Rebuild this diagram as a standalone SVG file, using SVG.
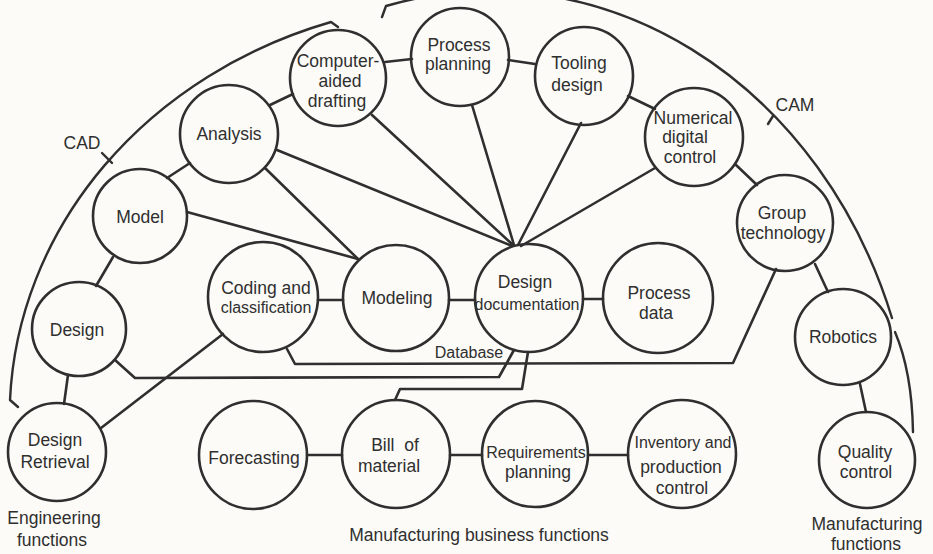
<svg xmlns="http://www.w3.org/2000/svg" width="933" height="554" viewBox="0 0 933 554">
  <style>
    .bg { fill: #fcfbf7; }
    .node circle { fill: none; stroke: #2f2f2f; stroke-width: 2.6; }
    .wire { fill: none; stroke: #2f2f2f; stroke-width: 2.6; stroke-linejoin: round; stroke-linecap: round; }
    .bracket { fill: none; stroke: #2f2f2f; stroke-width: 2.4; stroke-linejoin: round; stroke-linecap: round; }
    text { font-family: "Liberation Sans", Arial, sans-serif; font-size: 17.5px; fill: #2f2f2f; text-anchor: middle; }
    .sm { font-size: 16px; }
  </style>

  <rect class="bg" x="0" y="0" width="933" height="554"/>

  <!-- Grouping brackets: CAD, CAM and manufacturing -->
  <g id="brackets">
    <path class="bracket" d="M18,407 L10,400 A464,415 0 0,1 331,22 L338,27"/>
    <path class="bracket" d="M382,17 L386,6 A426,489 0 0,1 892,318"/>
    <path class="bracket" d="M895,332 Q912,372 913,432"/>
    <line class="bracket" x1="102" y1="153" x2="112" y2="163"/>
    <line class="bracket" x1="768" y1="124" x2="773" y2="116"/>
  </g>

  <!-- Connectors -->
  <g id="connectors">
    <!-- outer chain -->
    <line class="wire" x1="64" y1="404" x2="68" y2="375"/>
    <line class="wire" x1="96" y1="286" x2="113" y2="257"/>
    <line class="wire" x1="167" y1="178" x2="190" y2="163"/>
    <line class="wire" x1="270" y1="105" x2="293" y2="94"/>
    <line class="wire" x1="385" y1="62" x2="412" y2="59"/>
    <line class="wire" x1="508" y1="60" x2="535" y2="64"/>
    <line class="wire" x1="628" y1="96" x2="655" y2="109"/>
    <line class="wire" x1="735" y1="164" x2="757" y2="185"/>
    <line class="wire" x1="815" y1="264" x2="828" y2="292"/>
    <line class="wire" x1="860" y1="384" x2="866" y2="412"/>
    <!-- inner row -->
    <line class="wire" x1="318" y1="300" x2="343" y2="300"/>
    <line class="wire" x1="449" y1="300" x2="475" y2="300"/>
    <line class="wire" x1="583" y1="299" x2="603" y2="299"/>
    <!-- business row -->
    <line class="wire" x1="307" y1="455" x2="342" y2="455"/>
    <line class="wire" x1="450" y1="455" x2="482" y2="455"/>
    <line class="wire" x1="588" y1="455" x2="628" y2="455"/>
    <!-- spokes into design documentation -->
    <line class="wire" x1="277" y1="150" x2="512" y2="246"/>
    <line class="wire" x1="372" y1="115" x2="513" y2="245"/>
    <line class="wire" x1="472" y1="105" x2="514" y2="245"/>
    <line class="wire" x1="581" y1="123" x2="518" y2="245"/>
    <line class="wire" x1="655" y1="168" x2="521" y2="246"/>
    <!-- spokes into modeling -->
    <line class="wire" x1="265" y1="168" x2="358" y2="259"/>
    <line class="wire" x1="187" y1="212" x2="358" y2="259"/>
    <!-- database buses -->
    <polyline class="wire" points="287,349 295,364 733,363 776,269"/>
    <polyline class="wire" points="115,360 135,378 499,377 514,350"/>
    <polyline class="wire" points="528,352 522,389 400,389 395,400"/>
    <line class="wire" x1="101" y1="428" x2="223" y2="334"/>
  </g>

  <!-- Engineering functions -->
  <g id="design-retrieval" class="node"><circle cx="57" cy="452" r="49"/>
    <text x="55" y="446">Design</text><text x="55" y="468">Retrieval</text></g>
  <g id="design" class="node"><circle cx="79" cy="329" r="47"/>
    <text x="77" y="336">Design</text></g>
  <g id="model" class="node"><circle cx="140" cy="216" r="47"/>
    <text x="140" y="223">Model</text></g>
  <g id="analysis" class="node"><circle cx="229" cy="134" r="49"/>
    <text x="229" y="140">Analysis</text></g>
  <g id="computer-aided-drafting" class="node"><circle cx="338" cy="78" r="48"/>
    <text x="338" y="67">Computer-</text><text x="340" y="87">aided</text><text x="337" y="107">drafting</text></g>

  <!-- Manufacturing functions -->
  <g id="process-planning" class="node"><circle cx="460" cy="57" r="49"/>
    <text x="459" y="51">Process</text><text x="458" y="70">planning</text></g>
  <g id="tooling-design" class="node"><circle cx="584" cy="76" r="49"/>
    <text x="579" y="69">Tooling</text><text x="577" y="91">design</text></g>
  <g id="numerical-digital-control" class="node"><circle cx="694" cy="137" r="49"/>
    <text x="693" y="124">Numerical</text><text x="685" y="143">digital</text><text x="690" y="163">control</text></g>
  <g id="group-technology" class="node"><circle cx="785" cy="223" r="48"/>
    <text x="782" y="219">Group</text><text x="783" y="239">technology</text></g>
  <g id="robotics" class="node"><circle cx="843" cy="337" r="48"/>
    <text x="843" y="343">Robotics</text></g>
  <g id="quality-control" class="node"><circle cx="867" cy="460" r="48"/>
    <text x="865" y="458">Quality</text><text x="866" y="478">control</text></g>

  <!-- Database core -->
  <g id="coding-classification" class="node"><circle cx="263" cy="297" r="55"/>
    <text x="266" y="294">Coding and</text><text class="sm" x="266" y="313">classification</text></g>
  <g id="modeling" class="node"><circle cx="396" cy="298" r="53"/>
    <text x="397" y="304">Modeling</text></g>
  <g id="design-documentation" class="node"><circle cx="529" cy="298" r="54"/>
    <text x="525" y="288">Design</text><text class="sm" x="527" y="310">documentation</text></g>
  <g id="process-data" class="node"><circle cx="658" cy="298" r="55"/>
    <text x="659" y="299">Process</text><text x="656" y="319">data</text></g>

  <!-- Manufacturing business functions -->
  <g id="forecasting" class="node"><circle cx="253" cy="455" r="54"/>
    <text x="254" y="464">Forecasting</text></g>
  <g id="bill-of-material" class="node"><circle cx="396" cy="454" r="54"/>
    <text x="395" y="451" xml:space="preserve">Bill  of</text><text x="389" y="472">material</text></g>
  <g id="requirements-planning" class="node"><circle cx="535" cy="454" r="53"/>
    <text class="sm" x="536" y="458">Requirements</text><text x="538" y="478">planning</text></g>
  <g id="inventory-production-control" class="node"><circle cx="682" cy="454" r="54"/>
    <text class="sm" x="683" y="448">Inventory and</text><text x="681" y="473">production</text><text x="682" y="494">control</text></g>

  <!-- Labels -->
  <g id="labels">
    <text x="82" y="149">CAD</text>
    <text x="795" y="111">CAM</text>
    <text class="sm" x="469" y="358">Database</text>
    <text x="54" y="524">Engineering</text>
    <text x="52" y="546">functions</text>
    <text x="479" y="541">Manufacturing business functions</text>
    <text x="867" y="530">Manufacturing</text>
    <text x="866" y="550">functions</text>
  </g>
</svg>
